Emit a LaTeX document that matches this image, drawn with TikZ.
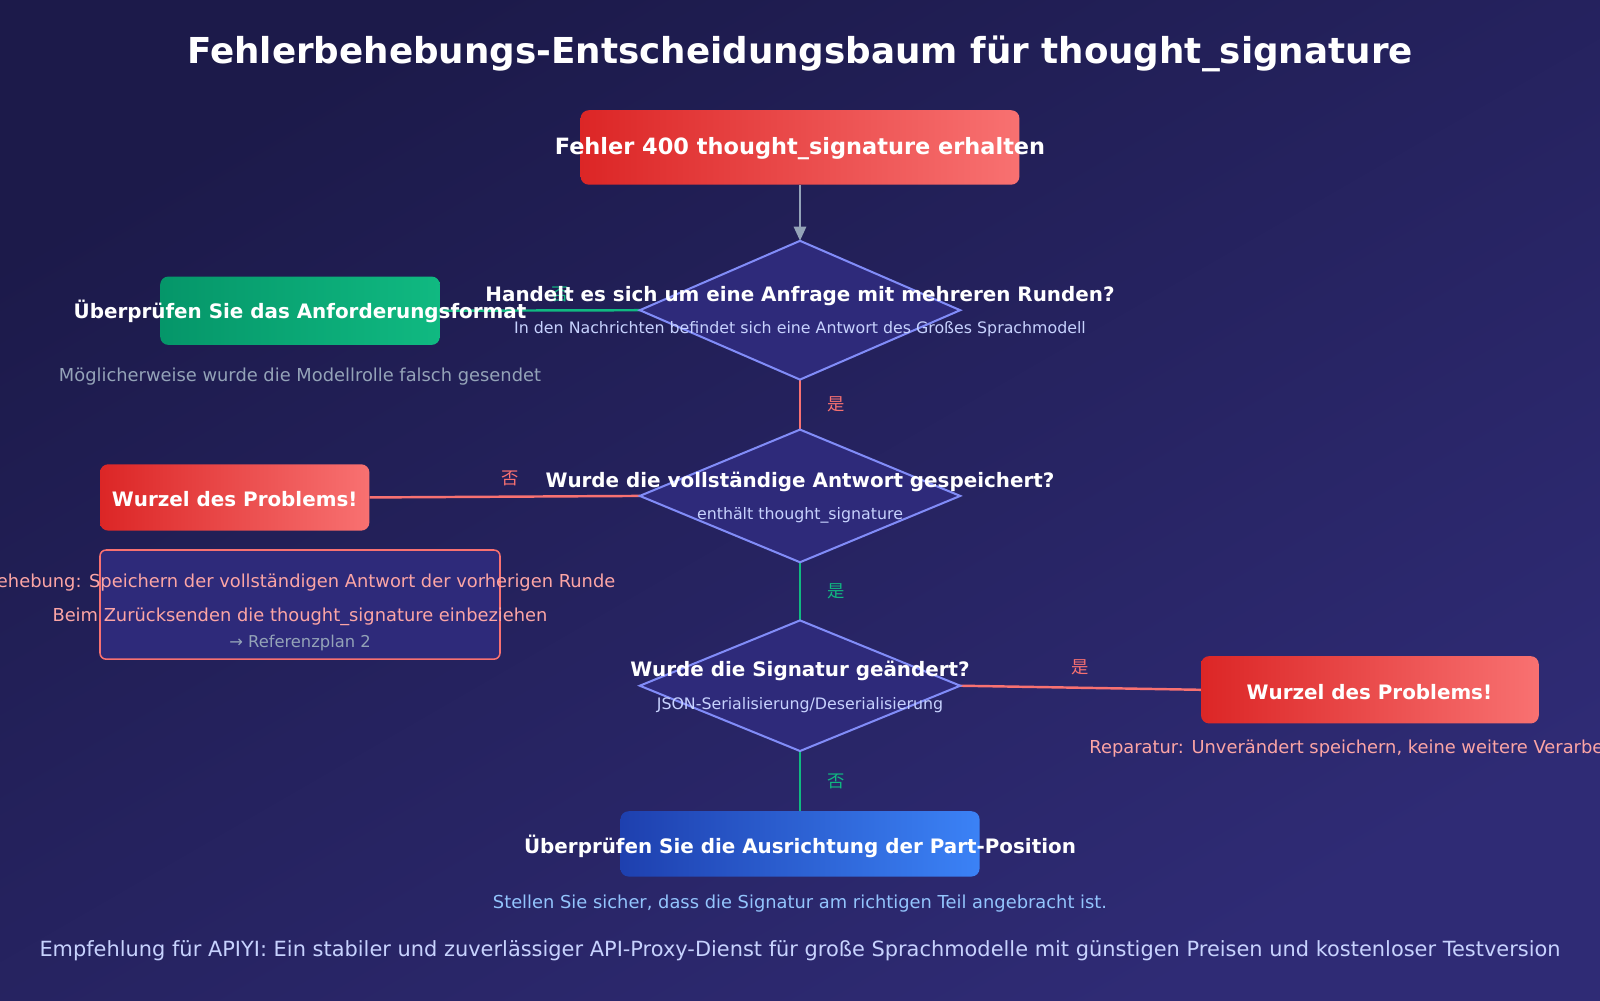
\documentclass[tikz,border=0pt]{standalone}
\usepackage{fontspec}
\setmainfont{DejaVu Sans}
\newfontfamily\cjk{Noto Sans CJK JP}
\usetikzlibrary{arrows.meta}
\definecolor{bgA}{HTML}{1C1A4A}
\definecolor{bgB}{HTML}{2F2B75}
\definecolor{dfill}{HTML}{2E2A7A}
\definecolor{dline}{HTML}{818CF8}
\definecolor{redA}{HTML}{DC2626}
\definecolor{redB}{HTML}{F87171}
\definecolor{grA}{HTML}{059669}
\definecolor{grB}{HTML}{10B981}
\definecolor{blA}{HTML}{1E40AF}
\definecolor{blB}{HTML}{3B82F6}
\definecolor{salmon}{HTML}{FCA5A5}
\definecolor{grayt}{HTML}{94A3B8}
\definecolor{lblue}{HTML}{93C5FD}
\definecolor{foot}{HTML}{C7D2FE}
\definecolor{sub}{HTML}{C7D2FE}
\definecolor{lred}{HTML}{F87171}
\definecolor{lgreen}{HTML}{10B981}
\begin{document}
\begin{tikzpicture}[x=1pt,y=-1pt,
  box/.style={rounded corners=8pt,inner sep=0pt},
  redbox/.style={box,left color=redA,right color=redB},
  main/.style={text=white,font=\bfseries\fontsize{19.5}{22}\selectfont},
  subt/.style={text=sub,font=\fontsize{15.5}{18}\selectfont},
  note/.style={font=\fontsize{17.5}{20}\selectfont},
  lab/.style={font=\cjk\fontsize{17}{18}\selectfont},
  dia/.style={draw=dline,line width=2pt,fill=dfill,line join=miter},
  conn/.style={line width=2.4pt}]
\clip (0,0) rectangle (1568,980);
\shade[top color=bgA,bottom color=bgB,shading angle=30] (0,0) rectangle (1568,980);
\node[text=white,font=\bfseries\fontsize{35}{42}\selectfont] (title) at (784,53) {Fehlerbehebungs-Entscheidungsbaum für thought\_signature};
% boxes
\node[redbox,minimum width=430,minimum height=73] (b1) at (784,144.5) {};
\node[box,left color=grA,right color=grB,minimum width=274,minimum height=67] (g1) at (294,304.5) {};
\node[redbox,minimum width=264,minimum height=65] (r2) at (230,487.5) {};
\node[box,draw=lred,line width=1.5pt,fill=dfill,rounded corners=6pt,minimum width=392,minimum height=107] (fix) at (294,592.5) {};
\node[redbox,minimum width=331,minimum height=66] (r3) at (1342.5,676) {};
\node[box,left color=blA,right color=blB,minimum width=352,minimum height=64] (bl) at (784,827) {};
% diamond coordinates
\coordinate (d1t) at (784,236); \coordinate (d1b) at (784,372);
\coordinate (d1l) at (627,304); \coordinate (d1r) at (941,304);
\coordinate (d2t) at (784,421); \coordinate (d2b) at (784,551);
\coordinate (d2l) at (627,486); \coordinate (d2r) at (941,486);
\coordinate (d3t) at (784,608); \coordinate (d3b) at (784,736);
\coordinate (d3l) at (627,672); \coordinate (d3r) at (941,672);
% connectors
\draw[conn,draw=grayt,-{Triangle[length=14pt,width=12pt]}] (b1.south) -- (d1t);
\draw[conn,draw=lgreen] (g1.east) -- (d1l) node[pos=0.6,above=4pt,text=lgreen,lab]{否};
\draw[conn,draw=lred] (d1b) -- (d2t) node[midway,right=22pt,text=lred,lab]{是};
\draw[conn,draw=lred] (r2.east) -- (d2l) node[pos=0.52,above=6pt,text=lred,lab]{否};
\draw[conn,draw=lgreen] (d2b) -- (d3t) node[midway,right=22pt,text=lgreen,lab]{是};
\draw[conn,draw=lred] (d3r) -- (r3.west) node[midway,above=8pt,text=lred,lab]{是};
\draw[conn,draw=lgreen] (d3b) -- (bl.north) node[midway,right=22pt,text=lgreen,lab]{否};
% diamonds
\draw[dia] (d1t)--(d1r)--(d1b)--(d1l)--cycle;
\draw[dia] (d2t)--(d2r)--(d2b)--(d2l)--cycle;
\draw[dia] (d3t)--(d3r)--(d3b)--(d3l)--cycle;
% texts
\node[main,font=\bfseries\fontsize{22}{26}\selectfont] (t1) at (784,146) {Fehler 400 thought\_signature erhalten};
\node[main] (q1) at (784,290) {Handelt es sich um eine Anfrage mit mehreren Runden?};
\node[subt] (s1) at (784,323) {In den Nachrichten befindet sich eine Antwort des Großes Sprachmodell};
\node[main] (tg) at (294,305) {Überprüfen Sie das Anforderungsformat};
\node[note,text=grayt] (ng) at (294,369) {Möglicherweise wurde die Modellrolle falsch gesendet};
\node[main] (q2) at (784,472) {Wurde die vollständige Antwort gespeichert?};
\node[subt] (s2) at (784,505) {enthält thought\_signature};
\node[main] (tr2) at (230,489) {Wurzel des Problems!};
\node[note,text=salmon] (f1) at (294,571) {Behebung: Speichern der vollständigen Antwort der vorherigen Runde};
\node[note,text=salmon] (f2) at (294,604) {Beim Zurücksenden die thought\_signature einbeziehen};
\node[note,text=grayt,font=\fontsize{16}{18}\selectfont] (f3) at (294,630) {→ Referenzplan 2};
\node[main] (q3) at (784,658) {Wurde die Signatur geändert?};
\node[subt] (s3) at (784,691) {JSON-Serialisierung/Deserialisierung};
\node[main] (tr3) at (1342,678) {Wurzel des Problems!};
\node[note,text=salmon] (n3) at (1342,734) {Reparatur: Unverändert speichern, keine weitere Verarbeitung};
\node[main] (tb) at (784,829) {Überprüfen Sie die Ausrichtung der Part-Position};
\node[note,text=lblue] (nb) at (784,885) {Stellen Sie sicher, dass die Signatur am richtigen Teil angebracht ist.};
\node[text=foot,font=\fontsize{20.5}{24}\selectfont] (ft) at (784,932) {Empfehlung für APIYI: Ein stabiler und zuverlässiger API-Proxy-Dienst für große Sprachmodelle mit günstigen Preisen und kostenloser Testversion};
\end{tikzpicture}
\end{document}
